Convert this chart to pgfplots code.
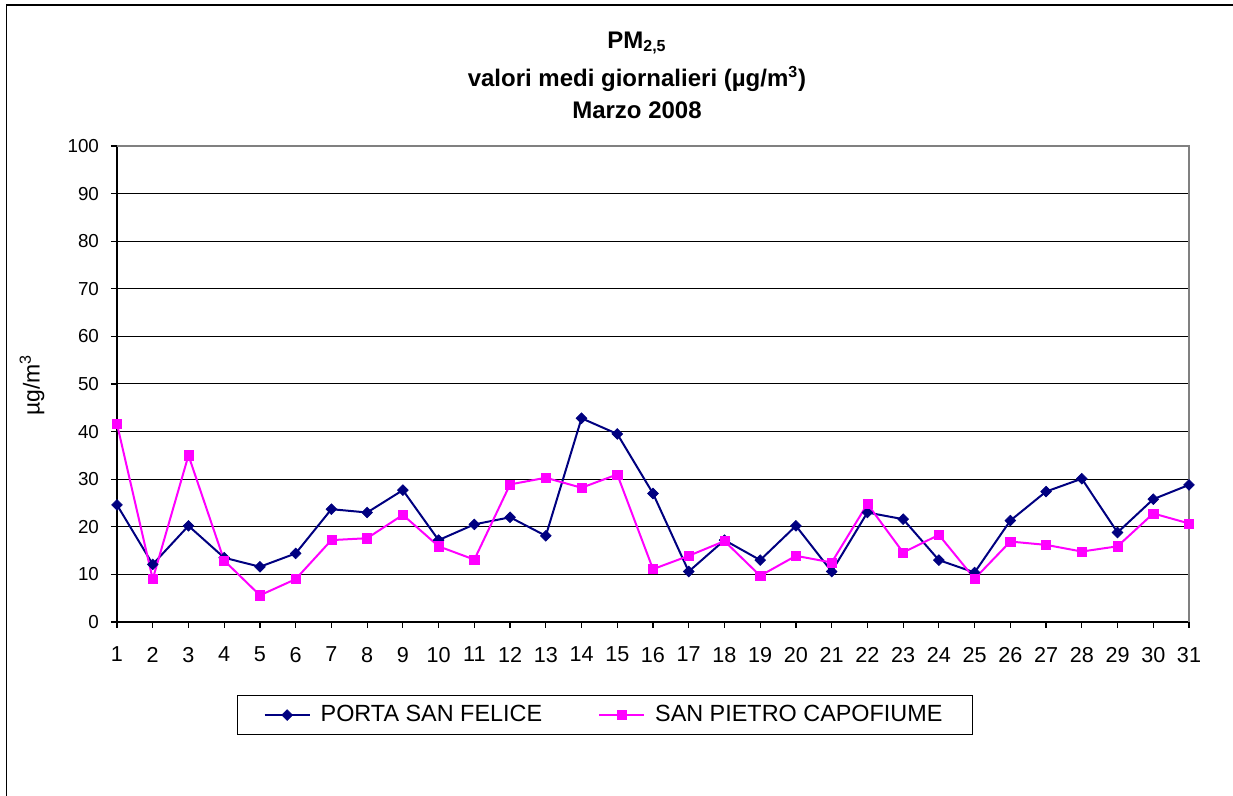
\documentclass[border=0pt]{standalone}
\usepackage{pgfplots}
\pgfplotsset{compat=1.18}
\usepackage{fontspec}
\setmainfont{Liberation Sans}
\definecolor{navyser}{RGB}{0,0,128}
\definecolor{magser}{RGB}{255,0,255}
\definecolor{framegray}{RGB}{128,128,128}
\begin{document}
\begin{tikzpicture}
\path[use as bounding box] (0,0) rectangle (616.5pt,398pt);
\draw[black,line width=0.9pt] (3.2pt,0pt) -- (3.2pt,395.5pt) -- (616.5pt,395.5pt);
\begin{axis}[
  at={(58.5pt,87pt)}, anchor=south west,
  scale only axis, width=536pt, height=238pt,
  xmin=1, xmax=31, ymin=0, ymax=100,
  xtick={1,...,31}, ytick={0,10,...,100},
  axis x line*=bottom, axis y line*=left,
  axis line style={black,line width=0.7pt,-},
  tick align=outside, major tick length=3pt,
  tick style={black,line width=0.6pt},
  ymajorgrids, grid style={black,line width=0.5pt},
  /pgf/number format/assume math mode=true,
  yticklabel style={font=\fontsize{9.4}{11}\selectfont, xshift=-2.5pt},
  xticklabel style={font=\fontsize{10.8}{12}\selectfont, yshift=-6pt},
  ylabel={µg/m\textsuperscript{3}},
  ylabel style={at={(axis description cs:-0.0793,0.498)}, anchor=center, font=\fontsize{11.5}{13}\selectfont},
  clip=false,
  legend columns=2,
  legend style={at={(axis description cs:0.112,-0.153)}, anchor=north west,
    draw=black, line width=0.6pt, font=\fontsize{11.7}{14}\selectfont,
    inner xsep=13pt, inner ysep=3pt,
    /tikz/every even column/.append style={column sep=26pt}},
  legend image code/.code={\draw[mark repeat=2,mark phase=2,#1] plot coordinates {(0pt,0pt) (11.25pt,0pt) (22.5pt,0pt)}; \path (25.5pt,0pt);},
]
\addplot[navyser, line width=1pt, mark=square*, mark size=1.9pt, mark options={solid,rotate=45,fill=navyser,draw=navyser,line width=0.3pt}] coordinates {
(1,24.6)(2,12.1)(3,20.2)(4,13.5)(5,11.6)(6,14.4)(7,23.7)(8,23.0)(9,27.7)(10,17.2)
(11,20.5)(12,22.0)(13,18.1)(14,42.8)(15,39.5)(16,27.0)(17,10.6)(18,17.2)(19,13.0)(20,20.2)
(21,10.6)(22,23.0)(23,21.6)(24,13.0)(25,10.4)(26,21.3)(27,27.4)(28,30.1)(29,18.8)(30,25.8)(31,28.8)};
\addlegendentry{PORTA SAN FELICE}
\addplot[magser, line width=1pt, mark=square*, mark size=2.3pt, mark options={solid,fill=magser,draw=magser,line width=0.3pt}] coordinates {
(1,41.6)(2,9.0)(3,35.0)(4,12.9)(5,5.6)(6,9.0)(7,17.2)(8,17.6)(9,22.5)(10,15.9)
(11,13.1)(12,28.9)(13,30.3)(14,28.2)(15,31.0)(16,11.1)(17,13.9)(18,17.0)(19,9.7)(20,13.9)
(21,12.5)(22,24.8)(23,14.6)(24,18.3)(25,9.1)(26,16.9)(27,16.2)(28,14.8)(29,15.9)(30,22.8)(31,20.7)};
\addlegendentry{SAN PIETRO CAPOFIUME}
\draw[framegray,line width=0.8pt] (rel axis cs:0,1) -- (rel axis cs:1,1) -- (rel axis cs:1,0);
\end{axis}
\node[font=\bfseries\fontsize{12}{14}\selectfont] at (318.5pt,376.5pt) {PM\textsubscript{2,5}};
\node[font=\bfseries\fontsize{12}{14}\selectfont] at (318.5pt,358.5pt) {valori medi giornalieri (µg/m\textsuperscript{3})};
\node[font=\bfseries\fontsize{12}{14}\selectfont] at (318.5pt,343pt) {Marzo 2008};
\end{tikzpicture}
\end{document}
